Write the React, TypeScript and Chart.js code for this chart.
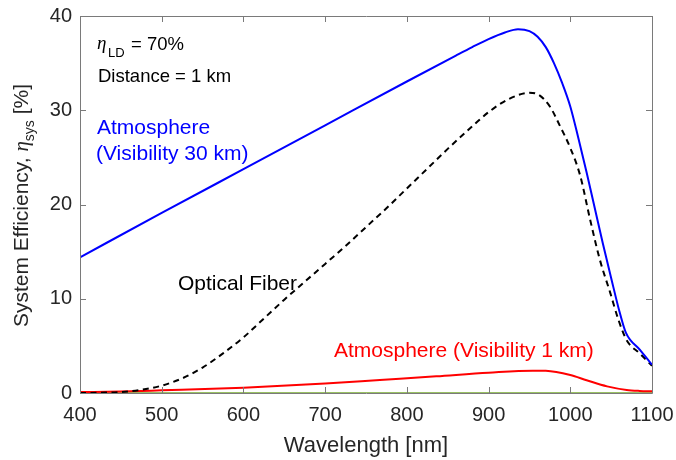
import React, { useEffect, useRef } from "react";
import { Chart, registerables } from "chart.js";

Chart.register(...registerables);

// Wavelength samples (nm) and system efficiency (%) per series
const atm30X = [400, 500, 600, 700, 800, 860, 880, 900, 920, 936, 950, 960, 970, 980, 990, 1000, 1010, 1020, 1030, 1040, 1050, 1060, 1068, 1085, 1100];
const atm30Y = [14.4, 19.1, 23.75, 28.4, 33.05, 35.8, 36.7, 37.55, 38.25, 38.6, 38.4, 37.8, 36.7, 35.0, 32.9, 30.4, 27.0, 23.4, 19.6, 15.8, 12.2, 8.7, 6.4, 4.6, 3.0];

const fiberX = [400, 425, 450, 475, 500, 525, 550, 575, 600, 625, 650, 675, 700, 725, 750, 775, 800, 825, 850, 875, 900, 925, 950, 960, 975, 987, 1000, 1012, 1024, 1036, 1049, 1059, 1069, 1085, 1100];
const fiberY = [0.0, 0.03, 0.1, 0.35, 0.78, 1.55, 2.7, 4.2, 5.9, 7.9, 9.9, 11.8, 13.7, 15.6, 17.6, 19.6, 21.7, 23.8, 25.9, 27.9, 29.8, 31.2, 31.85, 31.7, 30.4, 28.4, 26.0, 23.1, 18.5, 14.2, 10.6, 7.75, 5.6, 4.2, 2.9];

const atm1X = [400, 450, 500, 600, 700, 767, 836, 900, 954, 970, 1000, 1020, 1045, 1069, 1085, 1100];
const atm1Y = [0.1, 0.15, 0.28, 0.57, 1.0, 1.38, 1.77, 2.15, 2.37, 2.35, 1.9, 1.35, 0.7, 0.32, 0.22, 0.18];

const zeroX = [400, 1100];
const zeroY = [0, 0];

const xTicks = [400, 500, 600, 700, 800, 900, 1000, 1100];
const yTicks = [0, 10, 20, 30, 40];

const seriesLabels = ["Atmosphere (Visibility 30 km)", "Optical Fiber", "Atmosphere (Visibility 1 km)", "Zero"];

const FONT = '"Liberation Sans", Arial, Helvetica, sans-serif';
const SERIF = '"Liberation Serif", "DejaVu Serif", serif';
const TEXT = "#262626";

const toPts = (xs: number[], ys: number[]) => xs.map((x, i) => ({ x, y: ys[i] }));

const overlay = {
  id: "overlay",
  afterDraw(chart: any) {
    const { ctx, chartArea } = chart;
    const xs = chart.scales.x;
    const ys = chart.scales.y;
    const { left, right, top, bottom } = chartArea;
    ctx.save();
    // box
    ctx.strokeStyle = "#7a7a7a";
    ctx.lineWidth = 1;
    ctx.beginPath();
    ctx.rect(Math.round(left) + 0.5, Math.round(top) + 0.5, Math.round(right - left), Math.round(bottom - top));
    ctx.stroke();
    // inward ticks
    const tl = 6;
    ctx.beginPath();
    xTicks.forEach((v) => {
      const px = Math.round(xs.getPixelForValue(v)) + 0.5;
      ctx.moveTo(px, bottom);
      ctx.lineTo(px, bottom - tl);
      ctx.moveTo(px, top);
      ctx.lineTo(px, top + tl);
    });
    yTicks.forEach((v) => {
      const py = Math.round(ys.getPixelForValue(v)) + 0.5;
      ctx.moveTo(left, py);
      ctx.lineTo(left + tl, py);
      ctx.moveTo(right, py);
      ctx.lineTo(right - tl, py);
    });
    ctx.stroke();

    ctx.textBaseline = "alphabetic";
    ctx.textAlign = "left";
    // top-left info
    ctx.fillStyle = "#000";
    ctx.font = `italic 19px ${SERIF}`;
    ctx.fillText("η", 97, 49);
    ctx.font = `13px ${FONT}`;
    ctx.fillText("LD", 108, 57);
    ctx.font = `18.5px ${FONT}`;
    ctx.fillText("= 70%", 131, 50);
    ctx.fillText("Distance = 1 km", 98, 81.5);

    // series labels
    ctx.font = `21px ${FONT}`;
    ctx.fillStyle = "#0000ff";
    ctx.fillText("Atmosphere", 97, 133.5);
    ctx.fillText("(Visibility 30 km)", 96, 160);
    ctx.fillStyle = "#000";
    ctx.fillText("Optical Fiber", 178, 290);
    ctx.fillStyle = "#ff0000";
    ctx.fillText("Atmosphere (Visibility 1 km)", 334, 356.5);

    // x title
    ctx.fillStyle = TEXT;
    ctx.font = `22px ${FONT}`;
    ctx.textAlign = "center";
    ctx.fillText("Wavelength [nm]", (left + right) / 2, 452);

    // y title (rotated, with italic eta and subscript)
    const parts = [
      { t: "System Efficiency, ", f: `21px ${FONT}`, dy: 0 },
      { t: "η", f: `italic 21px ${SERIF}`, dy: 0 },
      { t: "sys", f: `14px ${FONT}`, dy: 6 },
      { t: " [%]", f: `21px ${FONT}`, dy: 0 },
    ];
    let total = 0;
    const widths = parts.map((p) => {
      ctx.font = p.f;
      const w = ctx.measureText(p.t).width;
      total += w;
      return w;
    });
    ctx.translate(28, (top + bottom) / 2 + 1);
    ctx.rotate(-Math.PI / 2);
    ctx.textAlign = "left";
    let cx = -total / 2;
    parts.forEach((p, i) => {
      ctx.font = p.f;
      ctx.fillText(p.t, cx, p.dy);
      cx += widths[i];
    });
    ctx.restore();
  },
};

export default function App() {
  const ref = useRef<HTMLCanvasElement | null>(null);
  useEffect(() => {
    document.body.style.margin = "0";
    const canvas = ref.current!;
    const chart = new Chart(canvas, {
      type: "line",
      data: {
        datasets: [
          {
            label: seriesLabels[0],
            data: toPts(atm30X, atm30Y),
            borderColor: "#0000ff",
            borderWidth: 2,
            pointRadius: 0,
            cubicInterpolationMode: "monotone",
          },
          {
            label: seriesLabels[1],
            data: toPts(fiberX, fiberY),
            borderColor: "#000000",
            borderWidth: 2,
            borderDash: [6, 4.5],
            pointRadius: 0,
            cubicInterpolationMode: "monotone",
          },
          {
            label: seriesLabels[2],
            data: toPts(atm1X, atm1Y),
            borderColor: "#ff0000",
            borderWidth: 2,
            pointRadius: 0,
            cubicInterpolationMode: "monotone",
          },
          {
            label: seriesLabels[3],
            data: toPts(zeroX, zeroY),
            borderColor: "#77ac30",
            borderWidth: 1.5,
            pointRadius: 0,
          },
        ],
      },
      options: {
        animation: false,
        responsive: false,
        layout: { padding: { top: 16, right: 24, left: 0, bottom: 0 } },
        plugins: { legend: { display: false }, tooltip: { enabled: false } },
        scales: {
          x: {
            type: "linear",
            min: 400,
            max: 1100,
            afterBuildTicks: (s: any) => {
              s.ticks = xTicks.map((v) => ({ value: v }));
            },
            afterFit: (s: any) => {
              s.height = 67;
              s.paddingLeft = 0;
              s.paddingRight = 0;
            },
            grid: { display: false, drawTicks: false },
            border: { display: false },
            ticks: {
              padding: 10,
              color: TEXT,
              font: { family: FONT, size: 20 },
              maxRotation: 0,
              callback: (v: any) => String(v),
            },
          },
          y: {
            type: "linear",
            min: 0,
            max: 40,
            afterBuildTicks: (s: any) => {
              s.ticks = yTicks.map((v) => ({ value: v }));
            },
            afterFit: (s: any) => {
              s.width = 80;
              s.paddingTop = 0;
              s.paddingBottom = 0;
            },
            grid: { display: false, drawTicks: false },
            border: { display: false },
            ticks: { padding: 8, color: TEXT, font: { family: FONT, size: 20 }, callback: (v: any) => String(v) },
          },
        },
      },
      plugins: [overlay],
    });
    return () => chart.destroy();
  }, []);
  return (
    <div style={{ width: 676, height: 460, background: "#fff" }}>
      <canvas ref={ref} width={676} height={460} style={{ display: "block" }} />
    </div>
  );
}
